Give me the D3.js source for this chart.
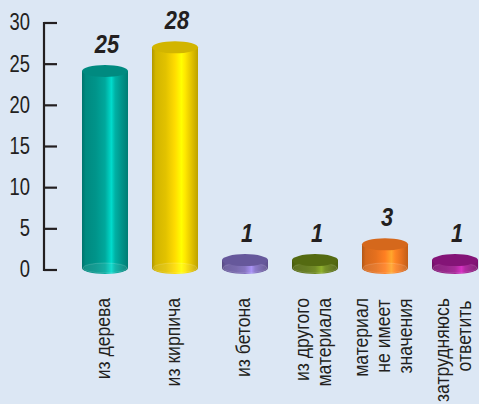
<!DOCTYPE html>
<html>
<head>
<meta charset="utf-8">
<script src="https://cdn.jsdelivr.net/npm/d3@7"></script>
<style>
  html, body { margin: 0; padding: 0; background: #dce7f4; }
  svg { display: block; }
  text { font-family: "Liberation Sans", Arial, sans-serif; fill: #231f20; }
</style>
</head>
<body>
<div id="graph"></div>
<script>
var categories = ["из дерева", "из кирпича", "из бетона", "из другого материала", "материал не имеет значения", "затрудняюсь ответить"],
    labelLines = [["из дерева"], ["из кирпича"], ["из бетона"], ["из другого", "материала"], ["материал", "не имеет", "значения"], ["затрудняюсь", "ответить"]],
    values = [25, 28, 1, 1, 3, 1],
    couleurs = ["#00948a", "#e2c200", "#6e5ea6", "#5a7212", "#e5701e", "#8e1680"],
    ticks = [0, 5, 10, 15, 20, 25, 30];

function dessin() {
    var width = 479, height = 404,
        rx = 23, ry = 6,
        svg = d3.select("#graph")
            .append("svg")
                .attr("width", width)
                .attr("height", height),

        // axe
        y = d3.scaleLinear().domain([0, 30]).range([270, 23]),
        // barres (le dessin d'origine est un peu plus bas que l'axe)
        yBar = d3.scaleLinear().domain([0, 30]).range([268, 31.6]),
        x = d3.scalePoint().domain(categories).range([105, 455]),
        defs = svg.append("defs");

    svg.append("rect").attr("width", width).attr("height", height).attr("fill", "#dce7f4");

    // axe vertical
    var axe = svg.append("g").attr("transform", "translate(44,0)");
    axe.append("line")
        .attr("x1", 0).attr("x2", 0)
        .attr("y1", y(30) - 1).attr("y2", y(0) + 1)
        .style("stroke", "#231f20")
        .style("stroke-width", 2.2);
    axe.selectAll(".tick")
        .data(ticks)
        .enter()
        .append("line")
        .attr("x1", 0).attr("x2", 13)
        .attr("y1", function (d) { return y(d); })
        .attr("y2", function (d) { return y(d); })
        .style("stroke", "#231f20")
        .style("stroke-width", 2.2);
    axe.selectAll(".ticklabel")
        .data(ticks)
        .enter()
        .append("g")
        .attr("transform", function (d) { return "translate(-14," + y(d) + ") scale(0.8,1)"; })
        .append("text")
        .attr("dy", "0.32em")
        .style("text-anchor", "end")
        .style("font-size", "23px")
        .text(function (d) { return d; });

    // dégradés
    couleurs.forEach(function (c, i) {
        var base = d3.color(c),
            g = defs.append("linearGradient")
                .attr("id", "grad" + i)
                .attr("x1", "0%").attr("x2", "100%")
                .attr("y1", "0%").attr("y2", "0%"),
            stops = [
                [0, base.darker(0.7)],
                [0.08, base.darker(0.2)],
                [0.3, base],
                [0.5, base.brighter(0.35)],
                [0.64, base.brighter(1.1)],
                [0.72, base.brighter(0.5)],
                [0.86, base],
                [1, base.darker(0.5)]
            ];
        stops.forEach(function (s) {
            g.append("stop").attr("offset", s[0]).attr("stop-color", s[1].formatHex());
        });
    });

    var barres = svg.selectAll(".barre")
        .data(values)
        .enter()
        .append("g")
        .attr("class", "barre");

    barres.append("path")
        .attr("fill", function (d, i) { return "url(#grad" + i + ")"; })
        .attr("d", function (d, i) {
            var cx = x(categories[i]), top = yBar(d), bot = yBar(0);
            return "M" + (cx - rx) + "," + top +
                "L" + (cx - rx) + "," + bot +
                "A" + rx + "," + ry + " 0 0 0 " + (cx + rx) + "," + bot +
                "L" + (cx + rx) + "," + top + "Z";
        });

    // reflet de l'ellipse du bas
    barres.append("ellipse")
        .attr("cx", function (d, i) { return x(categories[i]); })
        .attr("cy", function () { return yBar(0); })
        .attr("rx", rx - 1)
        .attr("ry", ry - 1)
        .attr("fill", "white")
        .attr("fill-opacity", 0.08)
        .attr("stroke", "white")
        .attr("stroke-opacity", 0.15)
        .attr("stroke-width", 1);

    barres.append("ellipse")
        .attr("cx", function (d, i) { return x(categories[i]); })
        .attr("cy", function (d) { return yBar(d); })
        .attr("rx", rx)
        .attr("ry", ry)
        .attr("fill", function (d, i) { return d3.color(couleurs[i]).darker(0.2).formatHex(); });

    // valeurs
    svg.selectAll(".valeur")
        .data(values)
        .enter()
        .append("g")
        .attr("transform", function (d, i) {
            return "translate(" + (x(categories[i]) + 2) + "," + (yBar(d) - 18) + ") scale(0.84,1)";
        })
        .append("text")
        .style("text-anchor", "middle")
        .style("font-size", "26px")
        .style("font-weight", "bold")
        .style("font-style", "italic")
        .text(function (d) { return d; });

    // libellés des catégories (verticaux)
    var box = 76;
    categories.forEach(function (c, i) {
        var lignes = labelLines[i], n = lignes.length;
        lignes.forEach(function (l, j) {
            var bx = x(c) + 5 + (j - (n - 1) / 2) * 22,
                t = svg.append("text")
                    .style("font-size", "20px")
                    .style("text-anchor", "end")
                    .text(l);
            var len = t.node().getComputedTextLength() * 0.88,
                decal = Math.max(0, (box - len) / 2);
            t.attr("transform", "translate(" + bx + "," + (298 + decal) + ") rotate(-90) scale(0.88,1)");
        });
    });
}

dessin();
</script>
</body>
</html>
